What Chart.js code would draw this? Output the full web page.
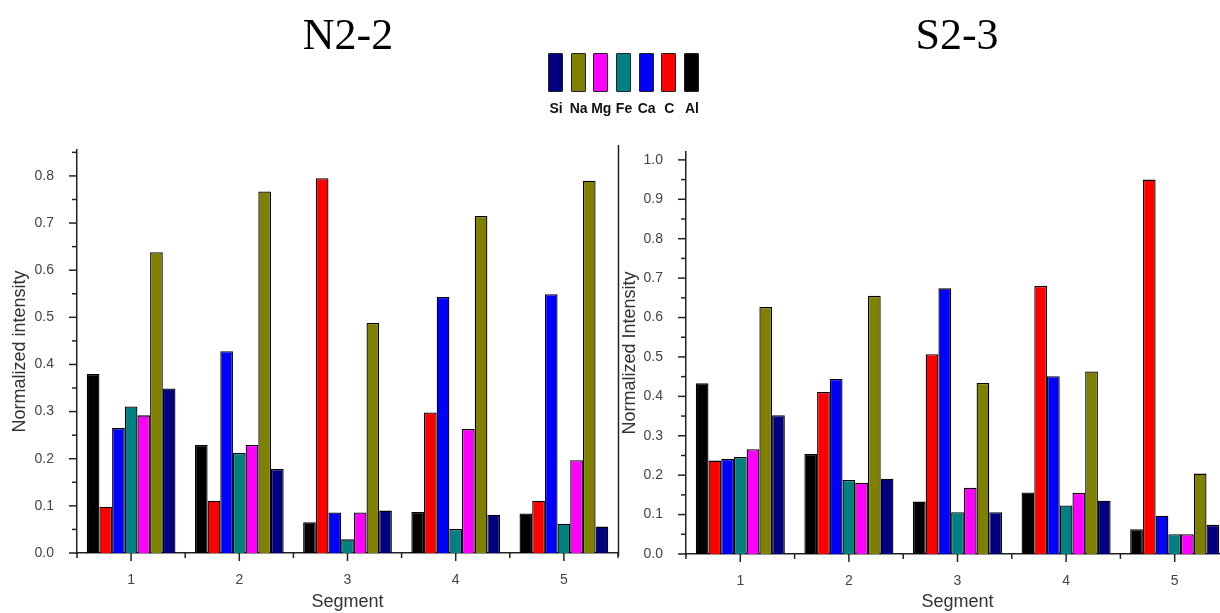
<!DOCTYPE html>
<html>
<head>
<meta charset="utf-8">
<script src="https://cdn.jsdelivr.net/npm/chart.js@4.4.1/dist/chart.umd.min.js"></script>
<style>
  html, body { margin: 0; padding: 0; background: #ffffff; width: 1220px; height: 613px; overflow: hidden; }
  #wrap { position: relative; width: 1220px; height: 613px; overflow: hidden; }
  canvas { position: absolute; top: 0; }
  .title { position: absolute; top: 13px; font-family: "Liberation Serif", "Times New Roman", serif; font-size: 44px; line-height: 44px; color: #000; transform: translateX(-50%); white-space: nowrap; }
  .lgbox { position: absolute; top: 53px; width: 13px; height: 37px; border: 1px solid #222; border-radius: 1px; }
  .lglab { position: absolute; top: 100px; font-family: "Liberation Sans", Arial, sans-serif; font-weight: bold; font-size: 14px; line-height: 16px; color: #111; transform: translateX(-50%); white-space: nowrap; }
</style>
</head>
<body>
<div id="wrap">
  <canvas id="left" width="620" height="613" style="left:0px"></canvas>
  <canvas id="right" width="630" height="613" style="left:612px"></canvas>
  <div class="title" id="t1" style="left:348px"></div>
  <div class="title" id="t2" style="left:957px"></div>
  <div id="legend"></div>
</div>
<script>
// ---- data ----
const SEGMENTS = ['1', '2', '3', '4', '5'];
const ELEMENTS = ['Al', 'C', 'Ca', 'Fe', 'Mg', 'Na', 'Si'];        // bar order within a segment
const LEGEND_ORDER = ['Si', 'Na', 'Mg', 'Fe', 'Ca', 'C', 'Al'];
const ELEMENT_COLORS = ['#000000', '#ff0000', '#0000ff', '#008080', '#ff00ff', '#808000', '#000080'];
const CHART_TITLES = ['N2-2', 'S2-3'];
const Y_TITLES = ['Normalized intensity', 'Normalized Intensity'];
const X_TITLE = 'Segment';

// N2-2
const N22_AL = [0.380, 0.229, 0.065, 0.087, 0.084];
const N22_C  = [0.098, 0.111, 0.795, 0.298, 0.111];
const N22_CA = [0.265, 0.428, 0.086, 0.543, 0.549];
const N22_FE = [0.311, 0.212, 0.029, 0.051, 0.062];
const N22_MG = [0.292, 0.229, 0.086, 0.263, 0.197];
const N22_NA = [0.638, 0.767, 0.488, 0.715, 0.790];
const N22_SI = [0.349, 0.178, 0.090, 0.081, 0.056];

// S2-3
const S23_AL = [0.433, 0.254, 0.133, 0.156, 0.063];
const S23_C  = [0.237, 0.411, 0.507, 0.680, 0.950];
const S23_CA = [0.241, 0.444, 0.674, 0.451, 0.097];
const S23_FE = [0.246, 0.188, 0.106, 0.123, 0.050];
const S23_MG = [0.266, 0.181, 0.168, 0.155, 0.050];
const S23_NA = [0.627, 0.655, 0.434, 0.463, 0.204];
const S23_SI = [0.352, 0.191, 0.106, 0.135, 0.074];

const N22_SERIES = [N22_AL, N22_C, N22_CA, N22_FE, N22_MG, N22_NA, N22_SI];
const S23_SERIES = [S23_AL, S23_C, S23_CA, S23_FE, S23_MG, S23_NA, S23_SI];

const Y_MAX = [0.855, 1.02];
const Y_STEP = 0.1;
const Y_MINOR = 0.05;

// ---- titles & legend (text) ----
document.getElementById('t1').textContent = CHART_TITLES[0];
document.getElementById('t2').textContent = CHART_TITLES[1];
const legend = document.getElementById('legend');
LEGEND_ORDER.forEach((name, i) => {
  const col = ELEMENT_COLORS[ELEMENTS.indexOf(name)];
  const x = 548 + i * 22.67;
  const b = document.createElement('div');
  b.className = 'lgbox';
  b.style.left = x.toFixed(1) + 'px';
  b.style.background = col;
  legend.appendChild(b);
  const l = document.createElement('div');
  l.className = 'lglab';
  l.style.left = (x + 8).toFixed(1) + 'px';
  l.textContent = name;
  legend.appendChild(l);
});

// ---- plugin drawing origin-style tick marks ----
const originTicks = {
  id: 'originTicks',
  afterDraw(chart, args, opts) {
    const { ctx, chartArea, scales: { x, y } } = chart;
    ctx.save();
    ctx.strokeStyle = '#222';
    ctx.lineWidth = 1.5;
    const seg = (x1, y1, x2, y2) => { ctx.beginPath(); ctx.moveTo(x1, y1); ctx.lineTo(x2, y2); ctx.stroke(); };
    for (let i = 0; ; i++) {
      const v = i * Y_MINOR;
      if (v > y.max + 1e-9) break;
      const py = y.getPixelForValue(v);
      const len = (i % 2 === 0) ? 8 : 5;
      seg(chartArea.left - len, py, chartArea.left, py);
    }
    const n = x.getLabels().length;
    for (let i = 0; i < n; i++) {
      const px = x.getPixelForValue(i);
      seg(px, chartArea.bottom, px, chartArea.bottom + 8);
    }
    for (let i = 0; i <= n; i++) {
      const px = x.getPixelForValue(i - 0.5);
      seg(px, chartArea.bottom, px, chartArea.bottom + 5);
    }
    if (opts && opts.separator) {
      seg(opts.separator, 145, opts.separator, 556);
    }
    ctx.restore();
  }
};

function makeChart(id, series, yMax, yTitle, geom) {
  const datasets = ELEMENTS.map((name, i) => ({
    label: name,
    data: series[i],
    backgroundColor: ELEMENT_COLORS[i],
    borderColor: '#000000',
    borderWidth: 1.3,
    categoryPercentage: 0.82,
    barPercentage: 1.0
  }));
  return new Chart(document.getElementById(id), {
    type: 'bar',
    data: { labels: SEGMENTS, datasets },
    plugins: [originTicks],
    options: {
      responsive: false,
      animation: false,
      devicePixelRatio: 1,
      layout: { padding: { left: 0, right: geom.padRight, top: geom.top, bottom: 0 } },
      plugins: {
        legend: { display: false },
        tooltip: { enabled: false },
        originTicks: { separator: geom.separator }
      },
      scales: {
        x: {
          type: 'category',
          grid: { display: false },
          border: { display: true, color: '#222', width: 1.5 },
          ticks: { color: '#444', font: { family: 'Liberation Sans', size: 14 }, padding: 11, maxRotation: 0 },
          title: { display: true, text: X_TITLE, color: '#333', font: { family: 'Liberation Sans', size: 18 }, padding: { top: 0, bottom: 0 } },
          afterFit: s => { s.height = geom.xHeight; }
        },
        y: {
          min: 0,
          max: yMax,
          grid: { display: false },
          border: { display: true, color: '#222', width: 1.5 },
          ticks: {
            stepSize: Y_STEP,
            includeBounds: false,
            color: '#444',
            font: { family: 'Liberation Sans', size: 14 },
            padding: 15,
            callback: v => Number(v).toFixed(1)
          },
          title: { display: true, text: yTitle, color: '#333', font: { family: 'Liberation Sans', size: 18 }, padding: { top: geom.yTitlePad, bottom: 0 } },
          afterFit: s => { s.width = geom.yWidth; }
        }
      }
    }
  });
}

makeChart('left', N22_SERIES, Y_MAX[0], Y_TITLES[0],
  { padRight: 2, top: 150, xHeight: 60, yWidth: 77, yTitlePad: 9, separator: 618.5 });
makeChart('right', S23_SERIES, Y_MAX[1], Y_TITLES[1],
  { padRight: 13, top: 152, xHeight: 59, yWidth: 74, yTitlePad: 7, separator: null });
</script>
</body>
</html>
